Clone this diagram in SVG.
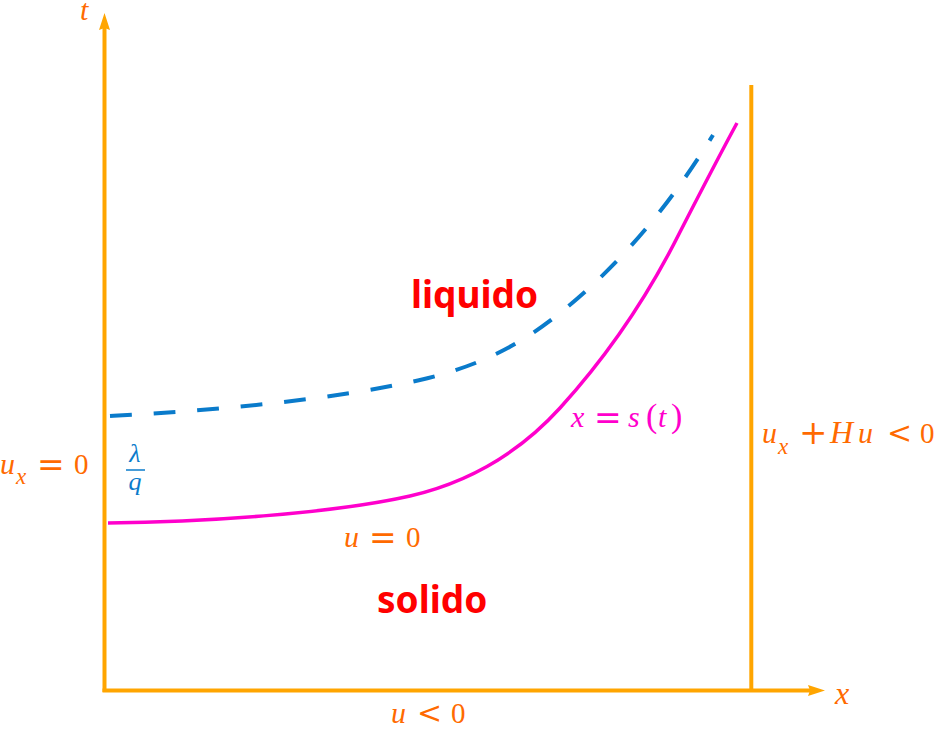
<svg xmlns="http://www.w3.org/2000/svg" width="941" height="729" viewBox="0 0 941 729">
<style>
.axis{stroke:#FFA500;stroke-width:4;fill:none}
.head{fill:#FFA500}
.m{font-family:"Liberation Serif",serif;fill:#FF6A00}
.i{font-style:italic}
.op{font-family:"DejaVu Serif",serif;font-style:normal}
.mag{fill:#FF00CC}
.blue{fill:#0A7BCB}
.reg{font-family:"Noto Sans","Open Sans",sans-serif;font-weight:bold;fill:#FF0000}
</style>
<rect width="941" height="729" fill="#fff"/>
<g id="axes">
<line class="axis" x1="104.5" y1="692" x2="104.5" y2="26"/>
<path class="head" d="M104.5,13 L110,30 L104.5,28 L99,30 Z"/>
<line class="axis" x1="102.5" y1="690.5" x2="812" y2="690.5"/>
<path class="head" d="M825,690.5 L808,696 L810,690.5 L808,685 Z"/>
<line class="axis" x1="751.3" y1="85" x2="751.3" y2="692"/>
</g>
<g id="curves">
<path id="interface" d="M108,523 C200,522 330,514 410,496 C470,482 520,452 560,408 C610,353 650,292 680,232 C700,193 718,158 737,123" fill="none" stroke="#FF00CC" stroke-width="3.5"/>
<path id="dashed" d="M110,416 C220,410 330,400 420,380 C480,366 520,345 560,313 C620,265 670,205 713,135" fill="none" stroke="#0A7BCB" stroke-width="4" stroke-dasharray="21.8 21.85"/>
</g>
<g id="labels">
<text class="m i" x="80" y="20" font-size="30">t</text>
<text class="m i" x="835" y="704" font-size="32">x</text>
<text class="m" y="474" font-size="30"><tspan class="i" x="0">u</tspan><tspan class="i" x="16" y="484" font-size="23">x</tspan><tspan class="op" x="37" y="476" font-size="33">=</tspan><tspan x="74" y="474" font-size="29">0</tspan></text>
<text class="m" y="443" font-size="30"><tspan class="i" x="762">u</tspan><tspan class="i" x="778" y="454" font-size="23">x</tspan><tspan class="op" x="799" y="444" font-size="34">+</tspan><tspan class="i" x="830" y="443" font-size="32">H</tspan><tspan class="i" x="858">u</tspan><tspan class="op" x="887" font-size="30">&lt;</tspan><tspan x="920" font-size="29">0</tspan></text>
<text class="m mag" y="427" font-size="30"><tspan class="i" x="571">x</tspan><tspan class="op" x="594" y="429" font-size="33">=</tspan><tspan class="i" x="628" y="427">s</tspan><tspan x="646" font-size="34">(</tspan><tspan class="i" x="658">t</tspan><tspan x="671" font-size="34">)</tspan></text>
<text class="m" y="547" font-size="30"><tspan class="i" x="344">u</tspan><tspan class="op" x="369" y="549" font-size="33">=</tspan><tspan x="406" y="547" font-size="29">0</tspan></text>
<text class="m" y="723" font-size="30"><tspan class="i" x="391">u</tspan><tspan class="op" x="417" font-size="30">&lt;</tspan><tspan x="451" font-size="29">0</tspan></text>
<g id="lambda-q">
<text class="m i blue" x="135" y="462" font-size="26" text-anchor="middle">λ</text>
<line x1="126" y1="470" x2="145" y2="470" stroke="#0A7BCB" stroke-width="1.5"/>
<text class="m i blue" x="135" y="490" font-size="26" text-anchor="middle">q</text>
</g>
<text class="reg" x="411" y="308" font-size="37">liquido</text>
<text class="reg" x="377" y="613" font-size="37">solido</text>
</g>
</svg>
